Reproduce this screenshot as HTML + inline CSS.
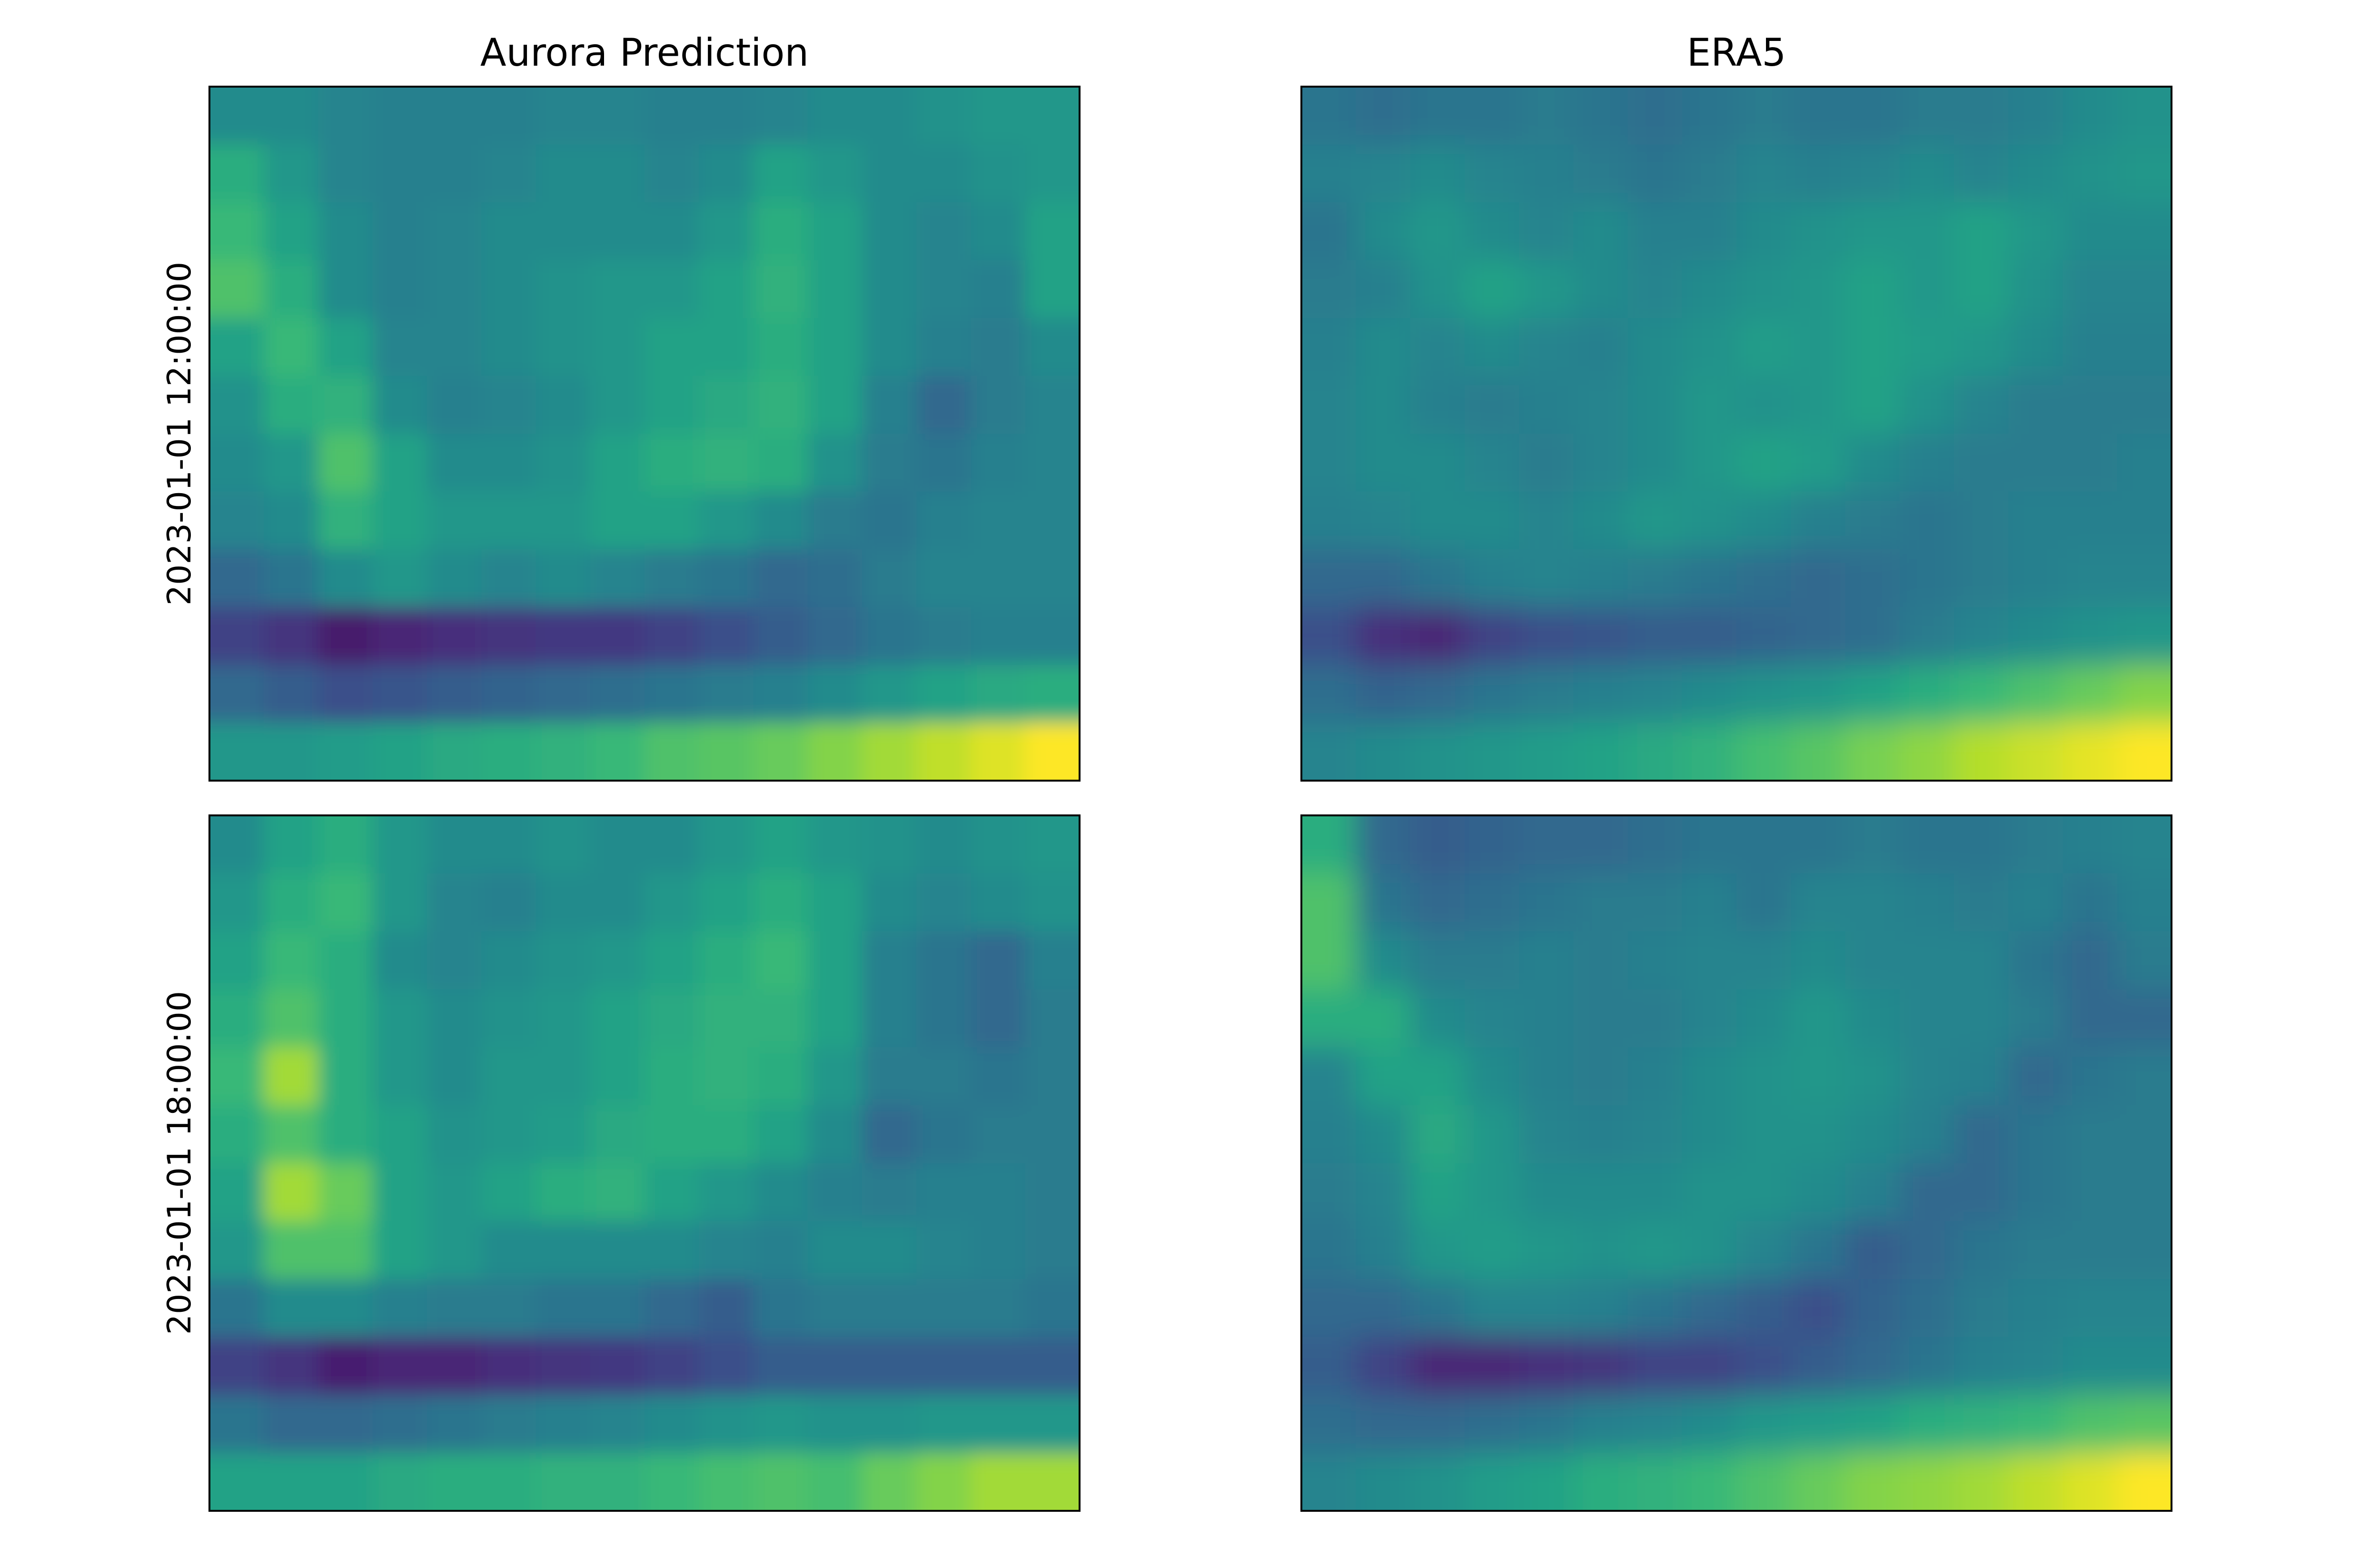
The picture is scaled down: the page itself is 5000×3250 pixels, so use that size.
<!DOCTYPE html>
<html><head><meta charset="utf-8">
<style>
html,body{margin:0;padding:0;background:#fff;}
svg{display:block;}
text{font-family:"DejaVu Sans","Liberation Sans",sans-serif;fill:#000;}
</style></head>
<body>
<svg id="fig" width="5000" height="3250" viewBox="0 0 5000 3250" xmlns="http://www.w3.org/2000/svg">
<defs>
<filter id="blurA" x="-10%" y="-10%" width="120%" height="120%"><feGaussianBlur stdDeviation="20"/></filter>
<filter id="blurE" x="-10%" y="-10%" width="120%" height="120%"><feGaussianBlur stdDeviation="30"/></filter>
<clipPath id="c0"><rect x="440" y="182" width="1828" height="1458"/></clipPath>
<clipPath id="c1"><rect x="2734" y="182" width="1828" height="1458"/></clipPath>
<clipPath id="c2"><rect x="440" y="1713" width="1828" height="1461"/></clipPath>
<clipPath id="c3"><rect x="2734" y="1713" width="1828" height="1461"/></clipPath>
</defs>
<text x="1354" y="138" font-size="80" text-anchor="middle">Aurora Prediction</text>
<text x="3648" y="138" font-size="80" text-anchor="middle">ERA5</text>
<text transform="translate(400,911) rotate(-90)" font-size="68" text-anchor="middle">2023-01-01 12:00:00</text>
<text transform="translate(400,2443) rotate(-90)" font-size="68" text-anchor="middle">2023-01-01 18:00:00</text>
<g id="maps"></g>
</svg>
<script>
const gridAurora12 = [
[0.45,0.45,0.42,0.4,0.4,0.4,0.42,0.42,0.4,0.4,0.42,0.45,0.45,0.48,0.5,0.5],
[0.6,0.5,0.42,0.4,0.4,0.42,0.45,0.45,0.42,0.45,0.55,0.5,0.45,0.45,0.48,0.5],
[0.65,0.55,0.45,0.4,0.42,0.45,0.45,0.45,0.45,0.5,0.6,0.55,0.45,0.42,0.45,0.55],
[0.7,0.6,0.45,0.4,0.42,0.45,0.48,0.5,0.5,0.55,0.62,0.55,0.45,0.42,0.4,0.55],
[0.55,0.65,0.55,0.42,0.42,0.45,0.48,0.5,0.55,0.55,0.6,0.55,0.45,0.4,0.38,0.45],
[0.48,0.6,0.62,0.45,0.4,0.42,0.45,0.5,0.55,0.58,0.62,0.55,0.4,0.3,0.38,0.42],
[0.45,0.5,0.7,0.55,0.45,0.45,0.48,0.55,0.6,0.62,0.6,0.48,0.38,0.35,0.4,0.42],
[0.42,0.45,0.62,0.55,0.5,0.5,0.5,0.55,0.55,0.5,0.45,0.38,0.35,0.4,0.42,0.42],
[0.3,0.35,0.45,0.5,0.45,0.42,0.45,0.42,0.38,0.35,0.3,0.32,0.38,0.42,0.42,0.42],
[0.15,0.1,0.02,0.05,0.08,0.1,0.12,0.12,0.15,0.2,0.25,0.3,0.35,0.38,0.4,0.4],
[0.3,0.25,0.2,0.22,0.25,0.28,0.3,0.32,0.35,0.38,0.4,0.45,0.5,0.55,0.58,0.6],
[0.5,0.5,0.52,0.55,0.58,0.6,0.62,0.65,0.7,0.72,0.75,0.8,0.85,0.9,0.95,1.0]];
const gridEra12 = [
[0.35,0.32,0.35,0.35,0.38,0.35,0.32,0.35,0.38,0.35,0.35,0.38,0.38,0.4,0.45,0.48],
[0.4,0.42,0.45,0.42,0.4,0.38,0.35,0.38,0.42,0.4,0.42,0.45,0.42,0.45,0.48,0.5],
[0.35,0.45,0.5,0.45,0.42,0.45,0.4,0.4,0.45,0.48,0.5,0.5,0.55,0.5,0.45,0.45],
[0.38,0.4,0.48,0.55,0.5,0.45,0.42,0.45,0.48,0.5,0.55,0.5,0.55,0.48,0.42,0.42],
[0.4,0.45,0.42,0.45,0.42,0.4,0.45,0.48,0.52,0.5,0.55,0.52,0.5,0.45,0.4,0.4],
[0.42,0.45,0.4,0.38,0.4,0.42,0.45,0.5,0.48,0.5,0.55,0.48,0.42,0.38,0.38,0.38],
[0.42,0.45,0.45,0.42,0.38,0.42,0.45,0.5,0.55,0.52,0.45,0.4,0.38,0.38,0.38,0.4],
[0.4,0.42,0.45,0.45,0.42,0.45,0.5,0.48,0.45,0.4,0.38,0.35,0.38,0.4,0.4,0.4],
[0.3,0.3,0.35,0.4,0.42,0.4,0.38,0.35,0.32,0.3,0.32,0.35,0.38,0.4,0.42,0.42],
[0.2,0.08,0.05,0.15,0.2,0.22,0.25,0.25,0.28,0.3,0.32,0.38,0.42,0.45,0.48,0.5],
[0.32,0.28,0.3,0.35,0.38,0.4,0.42,0.45,0.48,0.5,0.55,0.6,0.65,0.7,0.75,0.8],
[0.42,0.45,0.48,0.5,0.52,0.55,0.58,0.62,0.68,0.72,0.78,0.82,0.88,0.92,0.96,1.0]];
const gridAurora18 = [
[0.45,0.55,0.6,0.5,0.45,0.45,0.48,0.45,0.45,0.5,0.55,0.5,0.48,0.45,0.48,0.5],
[0.5,0.6,0.65,0.5,0.42,0.4,0.45,0.45,0.5,0.55,0.6,0.55,0.45,0.42,0.45,0.48],
[0.55,0.65,0.6,0.45,0.42,0.45,0.48,0.5,0.55,0.6,0.65,0.55,0.4,0.35,0.3,0.4],
[0.6,0.7,0.6,0.5,0.45,0.48,0.5,0.55,0.58,0.62,0.62,0.55,0.4,0.35,0.3,0.38],
[0.65,0.85,0.6,0.5,0.45,0.5,0.5,0.55,0.6,0.62,0.6,0.5,0.38,0.38,0.35,0.38],
[0.6,0.7,0.6,0.55,0.48,0.5,0.52,0.58,0.6,0.6,0.55,0.45,0.3,0.35,0.38,0.38],
[0.55,0.85,0.75,0.55,0.5,0.55,0.6,0.62,0.55,0.5,0.45,0.4,0.38,0.4,0.4,0.38],
[0.5,0.7,0.7,0.55,0.5,0.45,0.45,0.45,0.45,0.42,0.4,0.45,0.45,0.42,0.4,0.38],
[0.35,0.45,0.45,0.4,0.38,0.38,0.35,0.35,0.3,0.25,0.35,0.38,0.38,0.38,0.38,0.35],
[0.15,0.1,0.03,0.05,0.05,0.08,0.1,0.12,0.15,0.2,0.25,0.25,0.25,0.25,0.25,0.25],
[0.35,0.3,0.3,0.32,0.35,0.38,0.4,0.42,0.45,0.48,0.5,0.48,0.48,0.5,0.5,0.5],
[0.55,0.55,0.55,0.58,0.6,0.6,0.62,0.62,0.65,0.68,0.7,0.68,0.75,0.8,0.85,0.85]];
const gridEra18 = [
[0.6,0.3,0.25,0.28,0.3,0.3,0.32,0.35,0.35,0.35,0.38,0.35,0.35,0.38,0.4,0.42],
[0.7,0.35,0.3,0.32,0.35,0.38,0.38,0.4,0.35,0.42,0.42,0.4,0.38,0.4,0.35,0.4],
[0.7,0.45,0.38,0.38,0.4,0.38,0.4,0.42,0.42,0.45,0.42,0.42,0.42,0.35,0.3,0.38],
[0.6,0.6,0.45,0.42,0.4,0.38,0.38,0.42,0.45,0.5,0.45,0.42,0.42,0.38,0.3,0.3],
[0.42,0.55,0.55,0.45,0.4,0.38,0.4,0.45,0.48,0.5,0.48,0.42,0.4,0.3,0.35,0.38],
[0.4,0.45,0.58,0.5,0.42,0.4,0.42,0.45,0.48,0.48,0.45,0.4,0.3,0.35,0.38,0.38],
[0.38,0.42,0.55,0.5,0.45,0.45,0.45,0.48,0.48,0.45,0.4,0.3,0.3,0.35,0.38,0.38],
[0.35,0.4,0.5,0.52,0.5,0.48,0.5,0.48,0.42,0.35,0.25,0.3,0.35,0.38,0.38,0.38],
[0.3,0.3,0.35,0.42,0.42,0.4,0.35,0.3,0.25,0.2,0.28,0.32,0.38,0.4,0.42,0.42],
[0.25,0.15,0.05,0.05,0.08,0.1,0.15,0.15,0.2,0.25,0.3,0.35,0.4,0.42,0.45,0.45],
[0.32,0.3,0.3,0.32,0.35,0.4,0.42,0.45,0.5,0.52,0.55,0.6,0.62,0.65,0.7,0.72],
[0.42,0.45,0.48,0.52,0.55,0.6,0.62,0.65,0.7,0.75,0.8,0.82,0.85,0.9,0.95,1.0]];

const VIR=[[68,1,84],[72,40,120],[62,73,137],[49,104,142],[38,130,142],[31,158,137],[53,183,121],[110,206,88],[181,222,43],[253,231,37]];
const VMIN=-0.06, VMAX=1.0;
function viridis(v){v=(v-VMIN)/(VMAX-VMIN);v=Math.max(0,Math.min(1,v));const p=v*(VIR.length-1);const i=Math.min(Math.floor(p),VIR.length-2);const f=p-i;
 const c=VIR[i].map((a,k)=>Math.round(a+(VIR[i+1][k]-a)*f));return `rgb(${c[0]},${c[1]},${c[2]})`;}
const NS="http://www.w3.org/2000/svg";
const panels=[
 {g:gridAurora12,x:440,y:182,w:1828,h:1458,clip:"c0",f:"blurA",name:"aurora-12"},
 {g:gridEra12,x:2734,y:182,w:1828,h:1458,clip:"c1",f:"blurE",name:"era5-12"},
 {g:gridAurora18,x:440,y:1713,w:1828,h:1461,clip:"c2",f:"blurA",name:"aurora-18"},
 {g:gridEra18,x:2734,y:1713,w:1828,h:1461,clip:"c3",f:"blurE",name:"era5-18"}];
const root=document.getElementById("maps");
panels.forEach(P=>{
 const rows=P.g.length,cols=P.g[0].length;
 const xs=c=>P.x+c*P.w/cols, ys=r=>P.y+r*P.h/rows;
 const panel=document.createElementNS(NS,"g");
 
 
 panel.setAttribute("clip-path","url(#"+P.clip+")");
 const inner=document.createElementNS(NS,"g");
 inner.setAttribute("filter","url(#"+P.f+")");
 const pad=200;
 for(let r=0;r<rows;r++)for(let c=0;c<cols;c++){
  let x0=xs(c),x1=xs(c+1),y0=ys(r),y1=ys(r+1);
  if(c===0)x0-=pad; if(c===cols-1)x1+=pad; if(r===0)y0-=pad; if(r===rows-1)y1+=pad;
  const rect=document.createElementNS(NS,"rect");
  
  
  rect.setAttribute("x",x0);rect.setAttribute("y",y0);
  rect.setAttribute("width",x1-x0+1);rect.setAttribute("height",y1-y0+1);
  rect.setAttribute("fill",viridis(P.g[r][c]));
  inner.appendChild(rect);
 }
 panel.appendChild(inner);
 root.appendChild(panel);
 const fr=document.createElementNS(NS,"rect");
 
 
 fr.setAttribute("x",P.x);fr.setAttribute("y",P.y);fr.setAttribute("width",P.w);fr.setAttribute("height",P.h);
 fr.setAttribute("fill","none");fr.setAttribute("stroke","#000");fr.setAttribute("stroke-width","4");
 root.appendChild(fr);
});
</script>
</body></html>
